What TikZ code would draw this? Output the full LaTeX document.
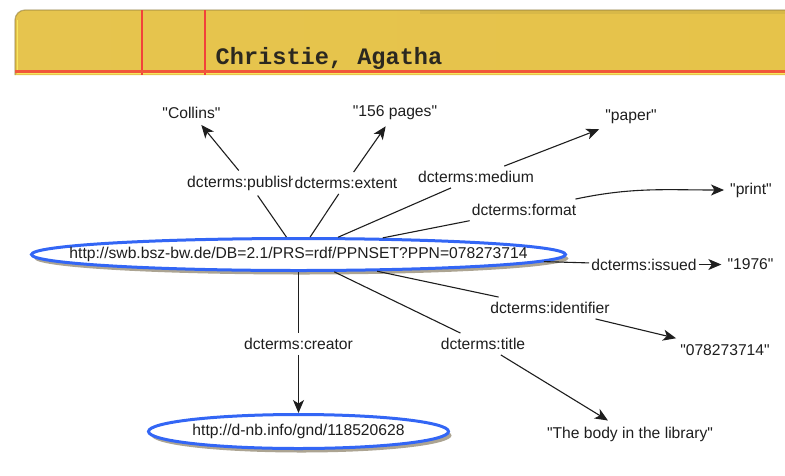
\documentclass[tikz,border=0pt]{standalone}
\usepackage{fontspec}
\setmainfont{Liberation Sans}[Ligatures=TeXOff]
\newfontfamily\cardfont{Liberation Mono}
\usetikzlibrary{arrows.meta,shadows,shapes.geometric}

\definecolor{cardleft}{HTML}{E6C44E}
\definecolor{cardyellow}{HTML}{EDCD55}
\definecolor{cardright}{HTML}{E6C34A}
\definecolor{cardedge}{HTML}{8E7A3A}
\definecolor{cardred}{HTML}{F2413A}
\definecolor{cardorange}{HTML}{F0573A}
\definecolor{cardink}{HTML}{2B2820}
\definecolor{rdfblue}{HTML}{3366F5}
\definecolor{shadowbrown}{HTML}{A39A86}
\definecolor{inkgray}{HTML}{1E1E1E}

\begin{document}
\begin{tikzpicture}[x=1pt,y=1pt,
  every node/.style={font=\fontsize{15.65}{18}\selectfont, text=inkgray},
  resource/.style={ellipse, draw=rdfblue, line width=3pt, fill=white, inner sep=0pt,
    drop shadow={shadow xshift=3pt, shadow yshift=-4pt, fill=shadowbrown, opacity=0.9}},
  literal/.style={inner sep=6pt},
  prop/.style={inner xsep=2pt, inner ysep=5pt},
  link/.style={draw=inkgray, line width=1.1pt},
  arrow/.style={link, -{Stealth[length=13pt,width=11pt,inset=3.5pt]}},
]
\useasboundingbox (0,0) rectangle (785,-475);

% catalogue card header
\shade[left color=cardleft, middle color=cardyellow, right color=cardright]
  (15,-75) -- (15,-20) arc[start angle=180, end angle=90, radius=10] -- (785,-10) -- (785,-75) -- cycle;
\fill[cardedge, opacity=0.15] (420,-10) rectangle (785,-14);
\draw[yellow!60!white, opacity=0.7, line width=1pt] (17,-20) -- (17,-73) -- (785,-73);
\draw[cardedge, opacity=0.55, line width=1.2pt]
  (15,-75) -- (15,-20) arc[start angle=180, end angle=90, radius=10] -- (785,-10);
\draw[cardred, line width=1.6pt] (142,-10) -- (142,-75);
\draw[cardred, line width=1.6pt] (205,-10) -- (205,-75);
\draw[cardorange, line width=2.6pt] (15,-71.7) -- (785,-71.7);
\node[anchor=base west, inner sep=0pt, text=cardink,
  font=\cardfont\bfseries\fontsize{23.6}{26}\selectfont] (cardname) at (215.5,-64.5) {Christie, Agatha};

% resources
\node[resource, minimum width=534pt, minimum height=32pt] (main) at (298.5,-254.5)
  {\makebox[0pt]{http://swb.bsz-bw.de/DB=2.1/PRS=rdf/PPNSET?PPN=078273714}};
\node[resource, minimum width=300pt, minimum height=34pt] (gnd) at (298.5,-431.5)
  {\makebox[0pt]{http://d-nb.info/gnd/118520628}};

% literals
\node[literal] (collins) at (191.5,-113) {"Collins"};
\node[literal] (pages) at (395,-113) {"156 pages"};
\node[literal] (paper) at (631,-117) {"paper"};
\node[literal] (print) at (751,-190) {"print"};
\node[literal] (year) at (750.5,-264.5) {"1976"};
\node[literal] (ppn) at (725,-350) {"078273714"};
\node[literal] (booktitle) at (630,-434) {"The body in the library"};

% properties
\node[prop] (publisher) at (249,-183) {dcterms:publisher};
\node[prop, fill=white] (extent) at (346,-183) {dcterms:extent};
\node[prop] (medium) at (476,-177) {dcterms:medium};
\node[prop] (format) at (524,-210) {dcterms:format};
\node[prop] (issued) at (644,-264.5) {dcterms:issued};
\node[prop] (identifier) at (550,-308) {dcterms:identifier};
\node[prop] (title) at (483,-344) {dcterms:title};
\node[prop] (creator) at (298.5,-344) {dcterms:creator};

% statements
\draw[link] (main) -- (publisher);
\draw[arrow] (publisher) -- (collins);
\draw[link] (main) -- (extent);
\draw[arrow] (extent) -- (pages);
\draw[link] (main) -- (medium);
\draw[arrow] (medium) -- (paper);
\draw[link] (main) -- (format);
\draw[arrow] (format) to[out=12, in=180] (print);
\draw[link] (main) -- (issued);
\draw[arrow] (issued) -- (year);
\draw[link] (main) -- (identifier);
\draw[arrow] (identifier) -- (ppn);
\draw[link] (main) -- (title);
\draw[arrow] (title) -- (booktitle);
\draw[link] (main) -- (creator);
\draw[arrow] (creator) -- (gnd);
\end{tikzpicture}
\end{document}
